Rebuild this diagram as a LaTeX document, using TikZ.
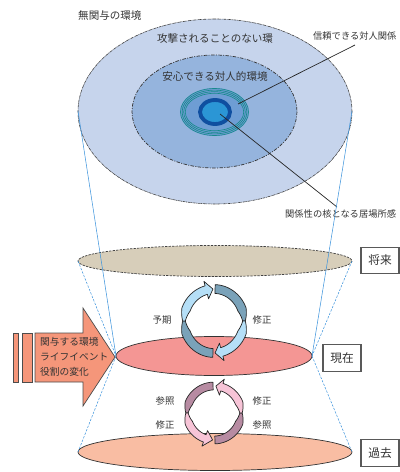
\documentclass[tikz,border=0pt]{standalone}
\usepackage{fontspec}
\newfontfamily\jp{Noto Sans CJK JP}
\usetikzlibrary{calc}
\definecolor{outerBlue}{HTML}{C6D4EC}
\definecolor{innerBlue}{HTML}{95B4DD}
\definecolor{tealFill}{HTML}{6E9DD4}
\definecolor{tealLine}{HTML}{178A8C}
\definecolor{coreRing}{HTML}{0F4FA0}
\definecolor{coreFill}{HTML}{2B96D5}
\definecolor{futFill}{HTML}{D7CEBA}
\definecolor{presFill}{HTML}{F49694}
\definecolor{pastFill}{HTML}{F9BDA3}
\definecolor{bigArrow}{HTML}{F5967A}
\definecolor{ribLight}{HTML}{B5DFF7}
\definecolor{ribDark}{HTML}{7AA2B9}
\definecolor{ribPink}{HTML}{F7C4D7}
\definecolor{ribMauve}{HTML}{B78BA2}
\definecolor{coneBlue}{HTML}{3D94DC}
\definecolor{txt}{HTML}{333333}
\def\hw{4.4}
\def\hh{9}
% tail part of a twisted ribbon arrow: cx cy rx ry start mid color
\newcommand{\rtail}[7]{%
 \filldraw[ribbon, fill=#7]
  plot[domain=#5:#6, samples=30, variable=\t]
   ({#1+(#3+\hw*min(1,0.3+abs(\t-(#6))/30))*cos(\t)},{#2+(#4+\hw*min(1,0.3+abs(\t-(#6))/30))*sin(\t)})
  -- plot[domain=#6:#5, samples=30, variable=\t]
   ({#1+(#3-\hw*min(1,0.3+abs(\t-(#6))/30))*cos(\t)},{#2+(#4-\hw*min(1,0.3+abs(\t-(#6))/30))*sin(\t)})
  -- cycle;}
% head part: cx cy rx ry mid end tip color
\newcommand{\rhead}[8]{%
 \filldraw[ribbon, fill=#8]
  plot[domain=#5:#6, samples=30, variable=\t]
   ({#1+(#3+\hw*min(1,0.3+abs(\t-(#5))/30))*cos(\t)},{#2+(#4+\hw*min(1,0.3+abs(\t-(#5))/30))*sin(\t)})
  -- ({#1+(#3+\hh)*cos(#6)},{#2+(#4+\hh)*sin(#6)})
  -- ({#1+#3*cos(#7)},{#2+#4*sin(#7)})
  -- ({#1+(#3-\hh)*cos(#6)},{#2+(#4-\hh)*sin(#6)})
  -- plot[domain=#6:#5, samples=30, variable=\t]
   ({#1+(#3-\hw*min(1,0.3+abs(\t-(#5))/30))*cos(\t)},{#2+(#4-\hw*min(1,0.3+abs(\t-(#5))/30))*sin(\t)})
  -- cycle;}
\begin{document}
\begin{tikzpicture}[x=0.03cm,y=-0.03cm,
  lab/.style={font=\jp\fontsize{9}{10}\selectfont, text=txt, inner sep=0pt},
  sidelab/.style={font=\jp\fontsize{7.9}{9}\selectfont, text=txt, inner sep=0pt},
  smalllab/.style={font=\jp\fontsize{8}{9}\selectfont, text=txt, inner sep=0pt},
  boxlab/.style={draw=black!65, line width=0.9pt, fill=white, font=\jp\fontsize{10}{11}\selectfont,
     text=txt, minimum width=1.14cm, minimum height=0.8cm, inner sep=0pt},
  ribbon/.style={draw=black!85, line width=0.6pt, line join=round},
  leader/.style={draw=black!85, line width=0.6pt},
  conelong/.style={draw=coneBlue, line width=0.45pt},
  coneshort/.style={draw=coneBlue, line width=0.45pt, dash pattern=on 2pt off 1.2pt},
]
\useasboundingbox (0,0) rectangle (400,472);

% ---- top: environment ellipses
\filldraw[fill=outerBlue, draw=black!75, line width=0.5pt, dash pattern=on 2.5pt off 0.6pt on 0.6pt off 0.6pt]
  (215,111.5) ellipse [x radius=137, y radius=92.5];
\filldraw[fill=innerBlue, draw=black!80, line width=0.6pt, dash pattern=on 3pt off 1.2pt on 0.8pt off 1.2pt]
  (214.5,111.5) ellipse [x radius=82.5, y radius=56.5];
\fill[tealFill] (214.5,112) ellipse [x radius=34.5, y radius=24];
\foreach \d in {0,1.6,3.2,4.8}{
  \draw[tealLine, line width=0.55pt] (214.5,112) ellipse [x radius=34-\d, y radius=23.5-\d];
}
\filldraw[fill=coreFill, draw=coreRing, line width=3.3pt] (215,112) ellipse [x radius=15, y radius=12];

\node[lab, anchor=west] (nokan) at (78,15) {無関与の環境};
\node[lab] (kogeki) at (215,38) {攻撃されることのない環};
\node[lab] (anshin) at (215,76) {安心できる対人的環境};
\node[sidelab, anchor=west] (shinrai) at (313,36) {信頼できる対人関係};
\node[sidelab, anchor=west] (kaku) at (285,214) {関係性の核となる居場所感};

\coordinate (ringpt) at (238,104);
\coordinate (corept) at (220,114);
\coordinate (shinraiEnd) at (355,45);
\coordinate (kakuEnd) at (337,207);
\draw[leader] (ringpt) -- (shinraiEnd);
\draw[leader] (corept) -- (kakuEnd);

% ---- time ellipses
\filldraw[fill=futFill, draw=black!75, line width=0.6pt, dash pattern=on 2pt off 1pt]
  (215,261) ellipse [x radius=137, y radius=15.5];
\filldraw[fill=presFill, draw=black!80, line width=0.6pt]
  (214,356) ellipse [x radius=98, y radius=19.5];
\filldraw[fill=pastFill, draw=black!80, line width=0.6pt]
  (215,452) ellipse [x radius=137, y radius=18.5];

% ---- cone lines
\coordinate (topL) at (78,111);
\coordinate (topR) at (352,111);
\coordinate (futL) at (78,261);
\coordinate (futR) at (352,261);
\coordinate (presL) at (116,356);
\coordinate (presR) at (312,356);
\coordinate (pastL) at (78,452);
\coordinate (pastR) at (352,452);
\draw[conelong] (topL) -- (presL);
\draw[conelong] (topR) -- (presR);
\draw[coneshort] (futL) -- (presL);
\draw[coneshort] (futR) -- (presR);
\draw[coneshort] (presL) -- (pastL);
\draw[coneshort] (presR) -- (pastR);

% ---- boxes
\node[boxlab] (future) at (380,260.5) {将来};
\node[boxlab] (present) at (342,358) {現在};
\node[boxlab] (past) at (380,453) {過去};

% ---- upper cycle (予期 / 修正)
\rtail{214}{321}{30}{32}{92}{180}{ribDark}
\rhead{214}{321}{30}{32}{180}{255}{268}{ribLight}
\rtail{214}{321}{30}{32}{-88}{0}{ribDark}
\rhead{214}{321}{30}{32}{0}{75}{88}{ribLight}
\node[smalllab] (yoki) at (162,320) {予期};
\node[smalllab] (shusei1) at (262,320) {修正};

% ---- lower cycle (参照 / 修正)
\def\hw{3.9}
\def\hh{8.3}
\rtail{214}{413}{27}{27}{268}{180}{ribMauve}
\rhead{214}{413}{27}{27}{180}{110}{93}{ribPink}
\rtail{214}{413}{27}{27}{88}{0}{ribMauve}
\rhead{214}{413}{27}{27}{0}{-73}{-86}{ribPink}
\node[smalllab] (sansho1) at (165,401) {参照};
\node[smalllab] (shusei2) at (165,425) {修正};
\node[smalllab] (shusei3) at (262,401) {修正};
\node[smalllab] (sansho2) at (262,425) {参照};

% ---- big arrow
\filldraw[fill=bigArrow, draw=black!70, line width=0.6pt] (13,333) rectangle (18,382);
\filldraw[fill=bigArrow, draw=black!70, line width=0.6pt] (22,333) rectangle (32,382);
\filldraw[fill=bigArrow, draw=black!70, line width=0.6pt, line join=miter]
  (35,333) -- (83,333) -- (83,308) -- (115,357) -- (83,406) -- (83,382) -- (35,382) -- cycle;
\node[font=\jp\fontsize{8.3}{9}\selectfont, text=txt, inner sep=0pt, anchor=west] (env1) at (40,342) {関与する環境};
\node[font=\jp\fontsize{8.3}{9}\selectfont, text=txt, inner sep=0pt, anchor=west] (env2) at (40,357) {ライフイベント};
\node[font=\jp\fontsize{8.3}{9}\selectfont, text=txt, inner sep=0pt, anchor=west] (env3) at (40,372) {役割の変化};
\end{tikzpicture}
\end{document}
